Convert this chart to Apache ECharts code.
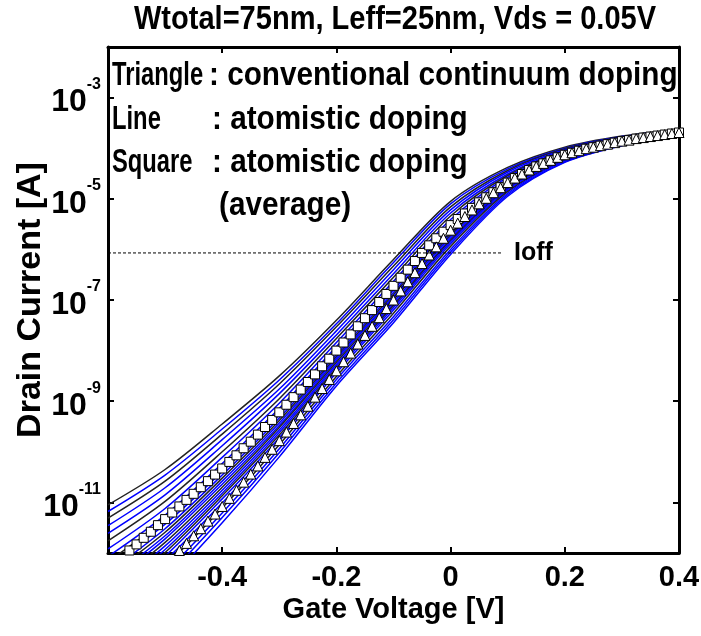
<!DOCTYPE html>
<html>
<head>
<meta charset="utf-8">
<script src="https://cdn.jsdelivr.net/npm/echarts@6/dist/echarts.min.js"></script>
<style>
html, body { margin: 0; padding: 0; background: #fff; }
#main { width: 701px; height: 636px; }
</style>
</head>
<body>
<div id="main"></div>
<script>
// gate voltage sweep of the marker curves [V]
var gateV = [-0.6,-0.5875,-0.575,-0.5625,-0.55,-0.5375,-0.525,-0.5125,-0.5,-0.4875,
  -0.475,-0.4625,-0.45,-0.4375,-0.425,-0.4125,-0.4,-0.3875,-0.375,-0.3625,
  -0.35,-0.3375,-0.325,-0.3125,-0.3,-0.2875,-0.275,-0.2625,-0.25,-0.2375,
  -0.225,-0.2125,-0.2,-0.1875,-0.175,-0.1625,-0.15,-0.1375,-0.125,-0.1125,
  -0.1,-0.0875,-0.075,-0.0625,-0.05,-0.0375,-0.025,-0.0125,0,0.0125,
  0.025,0.0375,0.05,0.0625,0.075,0.0875,0.1,0.1125,0.125,0.1375,
  0.15,0.1625,0.175,0.1875,0.2,0.2125,0.225,0.2375,0.25,0.2625,
  0.275,0.2875,0.3,0.3125,0.325,0.3375,0.35,0.3625,0.375,0.3875,0.4];

// log10(Id) : conventional continuum doping (triangles)
var triangleLog = [null,null,null,null,null,null,null,null,null,null,
  -11.95,-11.81,-11.66,-11.52,-11.37,-11.23,-11.08,-10.92,-10.76,-10.60,
  -10.44,-10.28,-10.11,-9.95,-9.78,-9.61,-9.44,-9.27,-9.10,-8.92,
  -8.75,-8.57,-8.40,-8.22,-8.05,-7.87,-7.70,-7.52,-7.35,-7.17,
  -7.00,-6.82,-6.64,-6.46,-6.28,-6.11,-5.95,-5.78,-5.62,-5.48,
  -5.35,-5.22,-5.10,-4.99,-4.88,-4.78,-4.68,-4.59,-4.51,-4.43,
  -4.36,-4.30,-4.24,-4.18,-4.13,-4.09,-4.05,-4.01,-3.98,-3.95,
  -3.92,-3.89,-3.86,-3.84,-3.81,-3.79,-3.77,-3.75,-3.73,-3.71,-3.69];

// log10(Id) : atomistic doping average (squares)
var squareLog = [null,null,null,
  -11.95,-11.83,-11.70,-11.58,-11.45,-11.33,-11.20,-11.08,-10.95,-10.83,
  -10.70,-10.58,-10.45,-10.33,-10.20,-10.07,-9.93,-9.80,-9.66,-9.51,
  -9.37,-9.22,-9.07,-8.92,-8.77,-8.62,-8.47,-8.31,-8.16,-8.00,
  -7.84,-7.68,-7.52,-7.36,-7.20,-7.04,-6.88,-6.72,-6.56,-6.40,
  -6.23,-6.07,-5.92,-5.78,-5.65,-5.52,-5.40,-5.29,-5.18,-5.07,
  -4.97,-4.87,-4.77,-4.68,
  -4.59,-4.51,-4.43,-4.36,-4.30,-4.24,-4.18,-4.13,-4.09,-4.05,-4.01,-3.98,
  -3.95,-3.92,-3.89,-3.86,-3.84,-3.81,-3.79,-3.77,-3.75,-3.73,-3.71,-3.69];

// atomistic doping samples (lines), log10(Id) at lineV
var lineV = [-0.6,-0.5,-0.4,-0.3,-0.2,-0.1,0,0.1,0.2,0.3,0.4];
var atomisticLog = [
  [-11.05,-10.35,-9.45,-8.50,-7.40,-6.20,-5.05,-4.38,-3.98,-3.76,-3.63],
  [-11.18,-10.46,-9.55,-8.58,-7.47,-6.26,-5.10,-4.41,-4.00,-3.77,-3.64],
  [-11.31,-10.58,-9.65,-8.66,-7.53,-6.33,-5.16,-4.44,-4.01,-3.78,-3.64],
  [-11.46,-10.71,-9.76,-8.76,-7.61,-6.40,-5.22,-4.47,-4.03,-3.79,-3.65],
  [-11.61,-10.85,-9.88,-8.85,-7.69,-6.48,-5.28,-4.51,-4.05,-3.80,-3.66],
  [-11.76,-10.98,-10.00,-8.95,-7.76,-6.55,-5.34,-4.54,-4.06,-3.81,-3.66],
  [-11.92,-11.12,-10.11,-9.04,-7.84,-6.63,-5.41,-4.57,-4.08,-3.82,-3.67],
  [-12.07,-11.25,-10.23,-9.14,-7.92,-6.70,-5.47,-4.61,-4.10,-3.84,-3.68],
  [-12.17,-11.34,-10.31,-9.20,-7.97,-6.75,-5.51,-4.63,-4.11,-3.84,-3.68],
  [-12.27,-11.43,-10.39,-9.27,-8.02,-6.80,-5.55,-4.65,-4.12,-3.85,-3.69],
  [-12.38,-11.52,-10.46,-9.33,-8.08,-6.85,-5.60,-4.68,-4.14,-3.86,-3.69],
  [-12.45,-11.59,-10.52,-9.38,-8.12,-6.89,-5.63,-4.69,-4.15,-3.86,-3.70],
  [-12.53,-11.66,-10.58,-9.43,-8.15,-6.93,-5.66,-4.71,-4.15,-3.87,-3.70],
  [-12.61,-11.72,-10.64,-9.48,-8.19,-6.96,-5.69,-4.73,-4.16,-3.88,-3.70],
  [-12.68,-11.79,-10.70,-9.52,-8.23,-7.00,-5.72,-4.74,-4.17,-3.88,-3.71],
  [-12.76,-11.86,-10.76,-9.57,-8.27,-7.04,-5.75,-4.76,-4.18,-3.89,-3.71],
  [-12.84,-11.93,-10.82,-9.62,-8.31,-7.08,-5.79,-4.78,-4.19,-3.89,-3.71],
  [-12.91,-11.99,-10.87,-9.67,-8.35,-7.11,-5.82,-4.80,-4.20,-3.90,-3.72],
  [-12.99,-12.06,-10.93,-9.72,-8.39,-7.15,-5.85,-4.81,-4.21,-3.90,-3.72],
  [-13.09,-12.15,-11.01,-9.78,-8.44,-7.20,-5.89,-4.84,-4.22,-3.91,-3.73],
  [-13.22,-12.26,-11.11,-9.86,-8.51,-7.26,-5.94,-4.86,-4.24,-3.92,-3.73],
  [-13.35,-12.38,-11.21,-9.94,-8.57,-7.33,-6.00,-4.89,-4.25,-3.93,-3.74],
  [-13.47,-12.49,-11.30,-10.02,-8.64,-7.39,-6.05,-4.92,-4.27,-3.94,-3.74],
  [-13.60,-12.60,-11.40,-10.10,-8.70,-7.45,-6.10,-4.95,-4.28,-3.95,-3.75]
];
var lineColors = ['#222','#0000ff','#222','#0000ff','#0000ff','#222','#0000ff','#0000ff',
  '#222','#0000ff','#0000ff','#222','#0000ff','#0000ff','#222','#0000ff',
  '#0000ff','#222','#0000ff','#0000ff','#222','#0000ff','#0000ff','#0000ff'];

// Ioff reference level
var ioffV = [-0.6, 0.09];
var ioffLog = -6.07;

var xTicks = [-0.4, -0.2, 0, 0.2, 0.4];
var yTickExp = [-11, -9, -7, -5, -3];

var FONT = '"Liberation Sans", Arial, Helvetica, sans-serif';

var chart = echarts.init(document.getElementById('main'));

var pow = function (e) { return e === null ? null : Math.pow(10, e); };
var yTickValues = yTickExp.map(pow);

var series = [];
atomisticLog.forEach(function (row, i) {
  series.push({
    type: 'line',
    data: lineV.map(function (v, j) { return [v, pow(row[j])]; }),
    smooth: 0.3,
    symbol: 'none',
    silent: true,
    lineStyle: { color: lineColors[i], width: 1.5 },
    z: 2
  });
});

var squarePts = [];
gateV.forEach(function (v, i) { if (squareLog[i] !== null) squarePts.push([v, pow(squareLog[i])]); });
var trianglePts = [];
gateV.forEach(function (v, i) { if (triangleLog[i] !== null) trianglePts.push([v, pow(triangleLog[i])]); });

series.push({
  type: 'scatter', data: squarePts, symbol: 'rect', symbolSize: 9, silent: true,
  itemStyle: { color: '#fff', borderColor: '#000', borderWidth: 1, opacity: 1 }, z: 3
});
series.push({
  type: 'scatter', data: trianglePts, symbol: 'triangle', symbolSize: 10, silent: true,
  itemStyle: { color: '#fff', borderColor: '#000', borderWidth: 1, opacity: 1 }, z: 4
});
series.push({
  type: 'line',
  data: ioffV.map(function (v) { return [v, pow(ioffLog)]; }),
  symbol: 'none', silent: true,
  lineStyle: { color: '#000', width: 1, type: [3, 2] },
  endLabel: {
    show: true, formatter: 'Ioff', distance: 12, color: '#000',
    fontFamily: FONT, fontWeight: 'bold', fontSize: 25
  },
  z: 5
});

function expOf(v) { return Math.round(v > 0 && v < 1 ? Math.log10(v) : v); }

var yLabel = {
  show: true,
  customValues: yTickValues,
  margin: 7,
  formatter: function (v) { return '{b|10}{s|' + expOf(v) + '}'; },
  rich: {
    b: { fontFamily: FONT, fontWeight: 'bold', fontSize: 32, color: '#000', lineHeight: 42, verticalAlign: 'bottom' },
    s: { fontFamily: FONT, fontWeight: 'bold', fontSize: 16, color: '#000', lineHeight: 42, verticalAlign: 'top' }
  }
};

var axisLine = { show: true, onZero: false, lineStyle: { color: '#000', width: 3 } };
var tick = { show: true, inside: true, length: 6, lineStyle: { color: '#000', width: 2 } };

function txt(x, y, s, sx, align) {
  return {
    type: 'text', x: x, y: y, scaleX: sx,
    style: { text: s, align: align || 'left', verticalAlign: 'middle', fill: '#000', fontFamily: FONT, fontWeight: 'bold', fontSize: 33 }
  };
}

var option = {
  animation: false,
  backgroundColor: '#fff',
  grid: { left: 108, right: 22, top: 47, bottom: 83, containLabel: false, outerBoundsMode: 'none' },
  xAxis: [{
    type: 'value', min: -0.6, max: 0.4, interval: 0.2, position: 'bottom',
    axisLine: axisLine, axisTick: tick,
    splitLine: { show: false },
    axisLabel: {
      margin: 10, color: '#000', fontFamily: FONT, fontWeight: 'bold', fontSize: 29,
      formatter: function (v) {
        var r = Math.round(v * 10) / 10;
        if (xTicks.indexOf(r) < 0) return '';
        return r === 0 ? '0' : r.toFixed(1);
      }
    },
    name: 'Gate Voltage [V]', nameLocation: 'middle', nameGap: 42, nameMoveOverlap: false,
    nameTextStyle: { color: '#000', fontFamily: FONT, fontWeight: 'bold', fontSize: 29 }
  }, {
    type: 'value', min: -0.6, max: 0.4, interval: 0.2, position: 'top',
    axisLine: axisLine, axisTick: tick,
    splitLine: { show: false }, axisLabel: { show: false }
  }],
  yAxis: [{
    type: 'log', logBase: 10, min: 1e-12, max: 1e-2, position: 'left',
    axisLine: axisLine,
    axisTick: { show: true, inside: true, length: 6, customValues: yTickValues, lineStyle: { color: '#000', width: 2 } },
    splitLine: { show: false },
    axisLabel: yLabel,
    name: 'Drain Current [A]', nameLocation: 'middle', nameGap: 60, nameRotate: 90, nameMoveOverlap: false,
    nameTextStyle: { color: '#000', fontFamily: FONT, fontWeight: 'bold', fontSize: 34 }
  }, {
    type: 'log', logBase: 10, min: 1e-12, max: 1e-2, position: 'right',
    axisLine: axisLine,
    axisTick: { show: true, inside: true, length: 6, customValues: yTickValues, lineStyle: { color: '#000', width: 2 } },
    splitLine: { show: false }, axisLabel: { show: false }
  }],
  graphic: [
    txt(395, 20, 'Wtotal=75nm, Leff=25nm, Vds = 0.05V', 0.88, 'center'),
    txt(112, 76, 'Triangle', 0.72),
    txt(209, 76, ': conventional continuum doping', 0.9),
    txt(112, 120, 'Line', 0.72),
    txt(212, 120, ': atomistic doping', 0.9),
    txt(112, 163, 'Square', 0.72),
    txt(212, 163, ': atomistic doping', 0.9),
    txt(219, 206, '(average)', 0.9)
  ],
  series: series
};
chart.setOption(option);
</script>
</body>
</html>
